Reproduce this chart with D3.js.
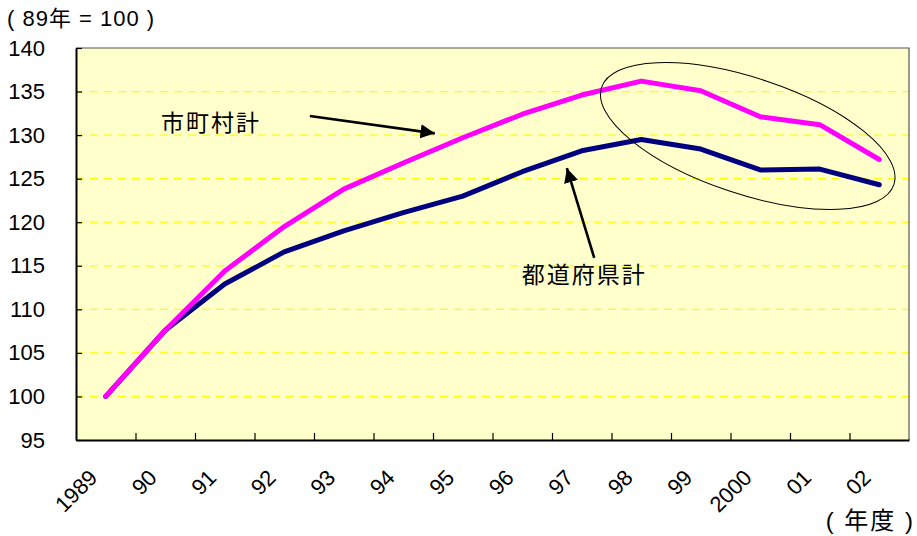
<!DOCTYPE html>
<html>
<head>
<meta charset="utf-8">
<script src="https://cdn.jsdelivr.net/npm/d3@7"></script>
<style>
  html, body { margin: 0; padding: 0; background: #fff; }
  svg { display: block; font-family: "Liberation Sans", Arial, "Noto Sans CJK JP", sans-serif; }
</style>
</head>
<body>
<svg id="chart" width="917" height="536"></svg>
<script>
// Fiscal years on the category axis
const years = ["1989", "90", "91", "92", "93", "94", "95", "96", "97", "98", "99", "2000", "01", "02"];
// Index, FY1989 = 100
const municipalTotal = [100, 107.6, 114.4, 119.5, 123.8, 126.8, 129.7, 132.4, 134.6, 136.2, 135.1, 132.1, 131.2, 127.2];
const prefectureTotal = [100, 107.6, 112.9, 116.6, 119.0, 121.1, 123.0, 125.8, 128.2, 129.5, 128.4, 126.0, 126.1, 124.3];
const yTicks = [95, 100, 105, 110, 115, 120, 125, 130, 135, 140];
const gridValues = [100, 105, 110, 115, 120, 125, 130, 135];
const unitLabel = "( 89年 = 100 )";
const axisTitle = "( 年度 )";
const labelMunicipal = "市町村計";
const labelPrefecture = "都道府県計";

const svg = d3.select("#chart");
const plot = { left: 76, right: 909, top: 48, bottom: 440 };

const x = d3.scaleBand().domain(years).range([plot.left, plot.right]).padding(0);
const xEdge = d3.scaleLinear().domain([0, years.length]).range([plot.left, plot.right]);
const y = d3.scaleLinear().domain([95, 140]).range([plot.bottom, plot.top]);
const cx = i => xEdge(i + 0.5); // centre of category i (fractional allowed)

// plot background
svg.append("rect")
  .attr("x", plot.left).attr("y", plot.top)
  .attr("width", plot.right - plot.left).attr("height", plot.bottom - plot.top)
  .attr("fill", "#ffffcc");

// dashed gridlines
svg.append("g").selectAll("line").data(gridValues).join("line")
  .attr("x1", plot.left).attr("x2", plot.right)
  .attr("y1", d => y(d)).attr("y2", d => y(d))
  .attr("stroke", "#ffff00").attr("stroke-width", 1.2)
  .attr("stroke-dasharray", "8,6");

// top / right frame
svg.append("path")
  .attr("d", `M${plot.left},${plot.top}H${plot.right}V${plot.bottom}`)
  .attr("fill", "none").attr("stroke", "#555").attr("stroke-width", 1.2);

// y axis
const yAxis = svg.append("g")
  .attr("transform", `translate(${plot.left},0)`)
  .call(d3.axisLeft(y).tickValues(yTicks).tickSize(-6).tickPadding(31).tickSizeOuter(0));
yAxis.select(".domain").attr("stroke", "#000").attr("stroke-width", 2);
yAxis.selectAll(".tick line").attr("stroke", "#000").attr("stroke-width", 1.2);
yAxis.selectAll(".tick text")
  .attr("font-size", 22).attr("fill", "#000")
  .attr("font-family", "'Liberation Sans', Arial, sans-serif");

// x axis: tick marks at category boundaries, pointing inward
const xTickAxis = svg.append("g")
  .attr("transform", `translate(0,${plot.bottom})`)
  .call(d3.axisBottom(xEdge).tickValues(d3.range(1, years.length)).tickSize(-7).tickFormat("").tickSizeOuter(0));
xTickAxis.select(".domain").attr("stroke", "#000").attr("stroke-width", 2);
xTickAxis.selectAll(".tick line").attr("stroke", "#000").attr("stroke-width", 1.2);

// x axis labels, rotated
svg.append("g").selectAll("text").data(years).join("text")
  .attr("transform", d => `translate(${x(d) + x.bandwidth() / 2 - 7},${plot.bottom + 39}) rotate(-45)`)
  .attr("text-anchor", "end")
  .attr("font-size", 22)
  .attr("font-family", "'Liberation Sans', Arial, sans-serif")
  .text(d => d);

// series lines
const line = d3.line()
  .x((d, i) => x(years[i]) + x.bandwidth() / 2)
  .y(d => y(d));

svg.append("path").datum(prefectureTotal)
  .attr("d", line)
  .attr("fill", "none").attr("stroke", "#000080").attr("stroke-width", 5)
  .attr("stroke-linejoin", "round").attr("stroke-linecap", "round");

svg.append("path").datum(municipalTotal)
  .attr("d", line)
  .attr("fill", "none").attr("stroke", "#ff00ff").attr("stroke-width", 5)
  .attr("stroke-linejoin", "round").attr("stroke-linecap", "round");

// annotations: arrows, ellipse, series labels
const defs = svg.append("defs");
defs.append("marker")
  .attr("id", "head").attr("viewBox", "0 0 10 10")
  .attr("refX", 10).attr("refY", 5)
  .attr("markerWidth", 5.5).attr("markerHeight", 5.5)
  .attr("markerUnits", "strokeWidth")
  .attr("orient", "auto")
  .append("path").attr("d", "M0,0L10,5L0,10Z").attr("fill", "#000");

function arrow(i0, v0, i1, v1) {
  svg.append("line")
    .attr("x1", cx(i0)).attr("y1", y(v0))
    .attr("x2", cx(i1)).attr("y2", y(v1))
    .attr("stroke", "#000").attr("stroke-width", 2.6)
    .attr("marker-end", "url(#head)");
}
arrow(3.43, 132.2, 5.53, 130.2);
arrow(8.21, 115.9, 7.75, 126.2);

svg.append("ellipse")
  .attr("transform", `translate(${cx(10.79)},${y(129.9)}) rotate(18.4)`)
  .attr("rx", 154).attr("ry", 58)
  .attr("fill", "none").attr("stroke", "#000").attr("stroke-width", 1);

svg.append("text")
  .attr("x", cx(1.77)).attr("y", y(131.6))
  .attr("text-anchor", "middle").attr("dominant-baseline", "central")
  .attr("font-size", 23).attr("font-family", "'Noto Sans CJK JP', sans-serif")
  .attr("letter-spacing", 2)
  .text(labelMunicipal);

svg.append("text")
  .attr("x", cx(8.04)).attr("y", y(114.2))
  .attr("text-anchor", "middle").attr("dominant-baseline", "central")
  .attr("font-size", 23).attr("font-family", "'Noto Sans CJK JP', sans-serif")
  .attr("letter-spacing", 2)
  .text(labelPrefecture);

// unit note and axis title
svg.append("text")
  .attr("x", 7).attr("y", 18)
  .attr("dominant-baseline", "central")
  .attr("font-size", 22)
  .attr("letter-spacing", 1)
  .text(unitLabel);

svg.append("text")
  .attr("x", 915).attr("y", 520)
  .attr("text-anchor", "end").attr("dominant-baseline", "central")
  .attr("font-size", 24)
  .attr("letter-spacing", 2)
  .text(axisTitle);
</script>
</body>
</html>
